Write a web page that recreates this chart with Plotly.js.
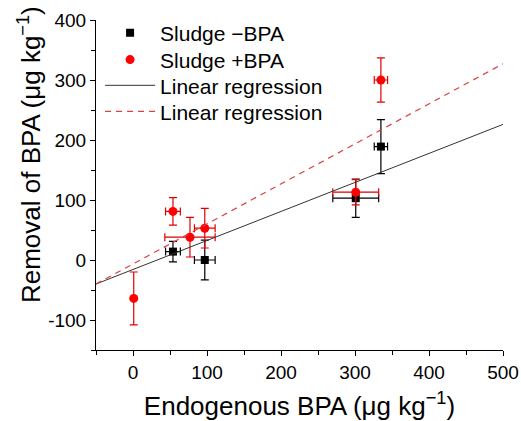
<!DOCTYPE html>
<html>
<head>
<meta charset="utf-8">
<script src="https://cdn.plot.ly/plotly-3.0.1.min.js"></script>
<style>html,body{margin:0;padding:0;background:#fff;}#chart{width:521px;height:421px;}</style>
</head>
<body>
<div id="chart"></div>
<script>
// Sludge −BPA
var minusX = [54, 97, 301, 335];
var minusY = [14, 0, 103, 189];
var minusXErr = [10, 14, 31, 9];
var minusYErr = [17, 33, 32, 45];
// Sludge +BPA
var plusX = [1, 54, 77, 97, 301, 335];
var plusY = [-64, 81, 38, 53, 113, 300];
var plusXErr = [0, 10, 34, 14, 31, 9];
var plusYErr = [44, 23, 33, 33, 21, 37];
// Linear regression lines (endpoints)
var fitX = [-50, 500];
var fitMinusY = [-40, 226];
var fitPlusY = [-40, 327];
// Tick labels
var xTickVals = [0, 100, 200, 300, 400, 500];
var xTickText = ['0', '100', '200', '300', '400', '500'];
var yTickVals = [-100, 0, 100, 200, 300, 400];
var yTickText = ['-100', '0', '100', '200', '300', '400'];

var FONT = '"Liberation Sans", Arial, sans-serif';

var traces = [
  {x: minusX, y: minusY, type: 'scatter', mode: 'markers', name: 'Sludge \u2212BPA', legend: 'legend',
   marker: {symbol: 'square', size: 8, color: '#000'},
   error_x: {type: 'data', array: minusXErr, visible: true, color: '#000', thickness: 1.2, width: 4},
   error_y: {type: 'data', array: minusYErr, visible: true, color: '#000', thickness: 1.2, width: 4}},
  {x: plusX, y: plusY, type: 'scatter', mode: 'markers', name: 'Sludge +BPA', legend: 'legend2',
   marker: {symbol: 'circle', size: 9, color: '#ff0000'},
   error_x: {type: 'data', array: plusXErr, visible: true, color: '#e00000', thickness: 1.2, width: 4},
   error_y: {type: 'data', array: plusYErr, visible: true, color: '#e00000', thickness: 1.2, width: 4}},
  {x: fitX, y: fitMinusY, type: 'scatter', mode: 'lines', name: 'Linear regression', legend: 'legend3',
   line: {color: '#333', width: 1}},
  {x: fitX, y: fitPlusY, type: 'scatter', mode: 'lines', name: 'Linear regression', legend: 'legend4',
   line: {color: '#d94040', width: 1.2, dash: '6px,5px'}}
];

function leg(y) {
  return {x: 0.01, y: y, xanchor: 'left', yanchor: 'middle', bgcolor: 'rgba(0,0,0,0)',
          font: {size: 21, family: FONT, color: '#000'}, itemwidth: 50};
}

var layout = {
  width: 521, height: 421,
  margin: {l: 96, r: 18, t: 20, b: 71},
  paper_bgcolor: '#fff', plot_bgcolor: '#fff',
  font: {family: FONT, color: '#000'},
  showlegend: true,
  legend: leg(0.960), legend2: leg(0.879), legend3: leg(0.801), legend4: leg(0.722),
  xaxis: {range: [-50, 500], tickmode: 'array', tickvals: xTickVals, ticktext: xTickText,
          ticks: 'outside', ticklen: 5, tickwidth: 1,
          showline: true, linecolor: '#000', linewidth: 1, showgrid: false, zeroline: false,
          minor: {dtick: 50, tick0: 0, ticks: 'outside', ticklen: 4, tickwidth: 1, tickcolor: '#000', showgrid: false},
          tickfont: {size: 19}, tickcolor: '#000',
          title: {text: 'Endogenous BPA (\u03bcg kg<sup>\u22121</sup>)', font: {size: 26}, standoff: 16}},
  yaxis: {range: [-150, 400], tickmode: 'array', tickvals: yTickVals, ticktext: yTickText,
          ticks: 'outside', ticklen: 5, tickwidth: 1,
          showline: true, linecolor: '#000', linewidth: 1, showgrid: false, zeroline: false,
          minor: {dtick: 50, tick0: 0, ticks: 'outside', ticklen: 4, tickwidth: 1, tickcolor: '#000', showgrid: false},
          tickfont: {size: 19}, tickcolor: '#000'},
  annotations: [{
    text: 'Removal of BPA (\u03bcg kg<sup>\u22121</sup>)', textangle: -90,
    xref: 'paper', yref: 'paper', x: -0.162, y: 0.591, xanchor: 'center', yanchor: 'middle',
    showarrow: false, font: {size: 26, family: FONT, color: '#000'}
  }]
};

Plotly.newPlot('chart', traces, layout, {displayModeBar: false, staticPlot: true});
</script>
</body>
</html>
